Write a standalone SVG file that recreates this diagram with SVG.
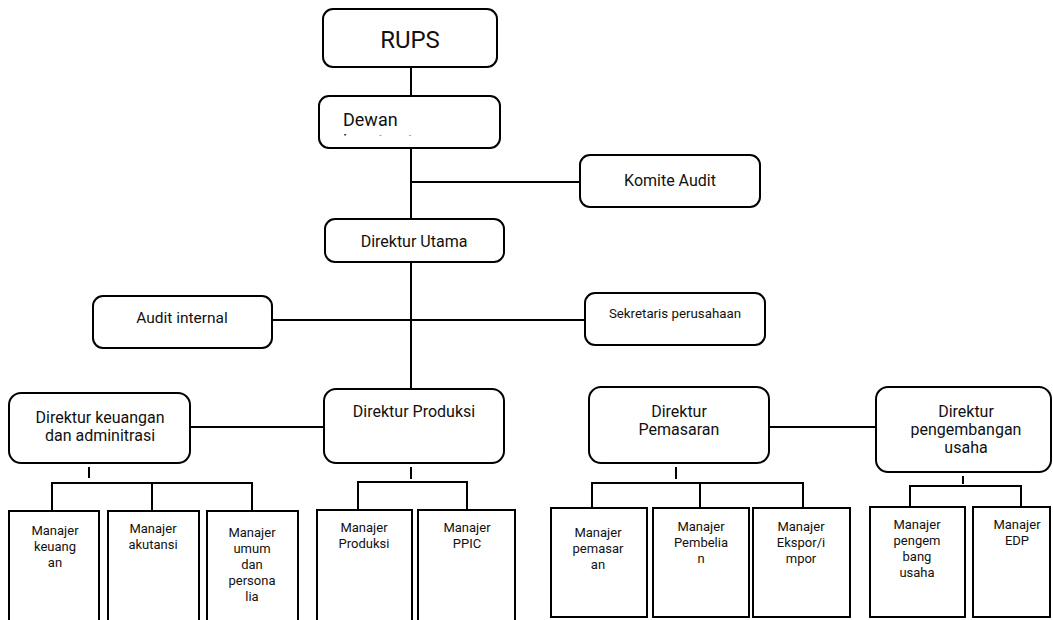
<svg xmlns="http://www.w3.org/2000/svg" width="1053" height="620" viewBox="0 0 1053 620">
<style>
.rb{fill:#fff;stroke:#000;stroke-width:2}
.sb{fill:#fff;stroke:#000;stroke-width:2}
.c{fill:none;stroke:#000;stroke-width:2}
text{font-family:Roboto,"Liberation Sans",sans-serif;fill:#111;text-anchor:middle}
.d{font-size:16px}
.m{font-size:13px}
</style>
<defs>
<clipPath id="dclip"><rect x="319" y="96" width="181" height="39.5"/></clipPath>
</defs>
<g id="connectors">
<path class="c" d="M411 67V96M411 148V219M411 182H580M411 262V389M272 320H585M190 427H324M769 427H876"/>
<path class="c" d="M89 467V478M52 510V483H252V510M152 483V510"/>
<path class="c" d="M411 467V479M358 510V482H467V510"/>
<path class="c" d="M676 467V479M592 508V483H803V508M700 483V508"/>
<path class="c" d="M963 476V484M910 507V486H1021V507"/>
</g>
<g id="rups"><rect class="rb" x="323" y="9" width="174" height="58" rx="10"/><text x="410" y="48" style="font-size:24px">RUPS</text></g>
<g id="dewan"><rect class="rb" x="319" y="96" width="181" height="52" rx="10"/><text x="343" y="126" style="font-size:18px;text-anchor:start">Dewan</text><text x="343" y="148" clip-path="url(#dclip)" style="font-size:18px;text-anchor:start">komisaris</text></g>
<g id="komite"><rect class="rb" x="580" y="155" width="180" height="52" rx="10"/><text x="670" y="186" style="font-size:16px">Komite Audit</text></g>
<g id="dirut"><rect class="rb" x="325" y="219" width="179" height="43" rx="10"/><text x="414" y="247" style="font-size:16px">Direktur Utama</text></g>
<g id="audit"><rect class="rb" x="93" y="296" width="179" height="52" rx="10"/><text x="182" y="323" style="font-size:15.5px">Audit internal</text></g>
<g id="sekretaris"><rect class="rb" x="585" y="293" width="180" height="52" rx="10"/><text x="675" y="318" style="font-size:13.3px">Sekretaris perusahaan</text></g>
<g id="dirkeu"><rect class="rb" x="9" y="393" width="181" height="70" rx="12"/><text class="d" x="100" y="423">Direktur keuangan</text><text class="d" x="100" y="441">dan adminitrasi</text></g>
<g id="dirprod"><rect class="rb" x="324" y="389" width="180" height="74" rx="12"/><text class="d" x="414" y="417">Direktur Produksi</text></g>
<g id="dirpem"><rect class="rb" x="589" y="387" width="180" height="76" rx="12"/><text class="d" x="679" y="417">Direktur</text><text class="d" x="679" y="435">Pemasaran</text></g>
<g id="dirpeng"><rect class="rb" x="876" y="387" width="175" height="85" rx="12"/><text class="d" x="966" y="417">Direktur</text><text class="d" x="966" y="435">pengembangan</text><text class="d" x="966" y="453">usaha</text></g>
<g id="mkeu"><rect class="sb" x="9" y="511" width="90" height="120"/><text class="m" x="55" y="535">Manajer</text><text class="m" x="55" y="551">keuang</text><text class="m" x="55" y="567">an</text></g>
<g id="makt"><rect class="sb" x="108" y="511" width="91" height="120"/><text class="m" x="153" y="533">Manajer</text><text class="m" x="153" y="549">akutansi</text></g>
<g id="mumum"><rect class="sb" x="207" y="511" width="91" height="120"/><text class="m" x="252" y="537">Manajer</text><text class="m" x="252" y="553">umum</text><text class="m" x="252" y="569">dan</text><text class="m" x="252" y="585">persona</text><text class="m" x="252" y="601">lia</text></g>
<g id="mprod"><rect class="sb" x="317" y="510" width="95" height="120"/><text class="m" x="364" y="532">Manajer</text><text class="m" x="364" y="548">Produksi</text></g>
<g id="mppic"><rect class="sb" x="418" y="510" width="97" height="120"/><text class="m" x="467" y="532">Manajer</text><text class="m" x="467" y="548">PPIC</text></g>
<g id="mpem"><rect class="sb" x="551" y="508" width="96" height="109"/><text class="m" x="598" y="537">Manajer</text><text class="m" x="598" y="553">pemasar</text><text class="m" x="598" y="569">an</text></g>
<g id="mbeli"><rect class="sb" x="653" y="508" width="96" height="109"/><text class="m" x="701" y="531">Manajer</text><text class="m" x="701" y="547">Pembelia</text><text class="m" x="701" y="563">n</text></g>
<g id="mekspor"><rect class="sb" x="753" y="508" width="97" height="109"/><text class="m" x="801" y="531">Manajer</text><text class="m" x="801" y="547">Ekspor/i</text><text class="m" x="801" y="563">mpor</text></g>
<g id="mpeng"><rect class="sb" x="870" y="507" width="95" height="110"/><text class="m" x="917" y="529">Manajer</text><text class="m" x="917" y="545">pengem</text><text class="m" x="917" y="561">bang</text><text class="m" x="917" y="577">usaha</text></g>
<g id="medp"><rect class="sb" x="973" y="507" width="77" height="110"/><text class="m" x="1017" y="529">Manajer</text><text class="m" x="1017" y="545">EDP</text></g>
</svg>
